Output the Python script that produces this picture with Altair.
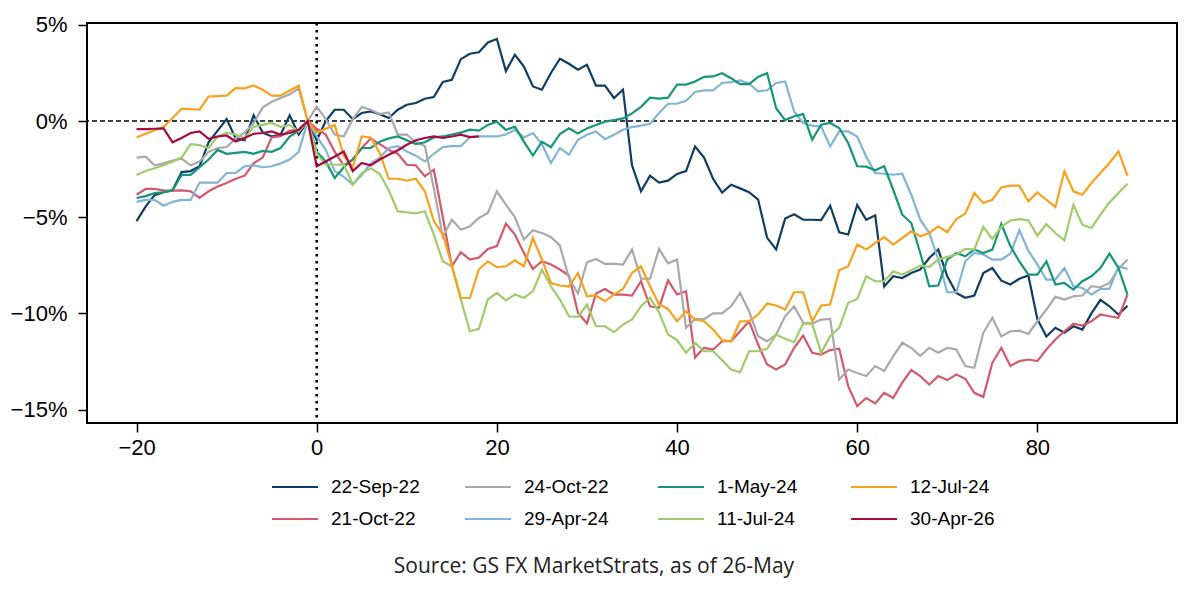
import altair as alt
import pandas as pd

days = list(range(-20, 91))
days_apr26 = list(range(-20, 19))

sep22 = [-5.2, -4.45, -3.85, -3.7, -3.6, -2.65, -2.6, -2.35, -1.1, -0.5, 0.1, -0.9, -1.0, 0.3, -0.6, -0.8, -0.7, 0.3, -0.7, 0.0,
         -1.0, 0.0, 0.59, 0.59, 0.1, 0.42, 0.5, 0.36, 0.16, 0.59, 0.85, 0.94, 1.16, 1.25, 2.03, 2.15, 3.22, 3.5, 3.58, 4.09, 4.27,
         2.6, 3.45, 2.84, 1.8, 1.63, 2.5, 3.24, 2.98, 2.67, 2.93, 1.84, 1.84, 1.2, 1.63, -2.3, -3.65, -2.84, -3.2, -3.1, -2.75, -2.6,
         -1.32, -1.9, -3.0, -3.72, -3.31, -3.5, -3.7, -4.08, -6.07, -6.67, -5.07, -4.85, -5.13, -5.13, -5.15, -4.4, -5.78, -5.9, -4.36, -5.13, -4.9,
         -8.6, -8.07, -8.16, -7.9, -7.72, -7.12, -6.68, -8.07, -8.94, -9.19, -9.07, -7.9, -7.64, -8.3, -8.5, -8.2, -8.03, -10.3, -11.2, -10.75,
         -11.0, -10.67, -10.84, -10.0, -9.3, -9.63, -10.06, -9.6]

oct21 = [-3.83, -3.53, -3.53, -3.6, -3.62, -3.6, -3.65, -4.0, -3.65, -3.4, -3.22, -3.0, -2.84, -2.2, -1.9, -0.85, -0.78, -0.5, -0.45, 0.0,
         -0.4, -0.7, -1.6, -2.3, -2.0, -1.4, -0.9, -1.2, -1.5, -1.7, -2.27, -2.3, -2.87, -2.53, -5.0, -7.55, -6.82, -7.2, -7.1, -6.65, -6.5,
         -5.33, -5.9, -6.86, -7.69, -7.29, -7.46, -7.72, -8.03, -9.97, -10.53, -8.97, -8.73, -9.02, -9.02, -9.07, -8.33, -9.63, -9.71, -8.28, -9.02, -8.85,
         -12.3, -11.79, -11.88, -11.45, -11.45, -10.93, -10.41, -11.62, -12.66, -12.92, -12.66, -11.79, -11.15, -12.05, -12.14, -11.91, -11.84, -13.78, -14.82, -14.4, -14.68,
         -14.13, -14.4, -13.6, -12.95, -13.26, -13.7, -13.26, -13.47, -13.18, -13.4, -14.13, -14.34, -12.57, -11.79, -12.74, -12.48, -12.4, -12.48, -11.88, -11.36,
         -10.93, -10.53, -10.63, -10.41, -10.06, -10.15, -10.23, -9.02]

oct24 = [-1.9, -1.85, -2.3, -2.2, -2.05, -1.95, -2.3, -2.1, -1.6, -1.4, -1.35, -0.9, -0.6, -0.1, 0.7, 1.0, 1.2, 1.4, 1.7, 0.0,
         0.75, 0.1, -0.7, -0.8, 0.1, 0.73, 0.59, 0.36, 0.45, -0.7, -0.7, -1.1, -1.3, -3.5, -6.0, -5.13, -5.65, -5.47, -5.04, -4.78, -3.65,
         -4.35, -5.0, -6.16, -5.68, -5.82, -6.03, -6.48, -8.16, -8.97, -7.34, -7.17, -7.43, -7.43, -7.46, -6.68, -8.2, -8.2, -6.65, -7.4, -7.2, -10.75,
         -10.3, -10.3, -10.0, -10.0, -9.63, -8.94, -9.89, -11.19, -11.45, -11.1, -10.15, -9.63, -10.49, -10.53, -10.32, -10.29, -13.44, -12.92, -13.1, -13.26, -12.74,
         -13.0, -12.22, -11.53, -11.79, -12.22, -11.79, -12.05, -11.79, -11.88, -12.74, -12.83, -11.01, -10.23, -11.2, -10.93, -10.9, -11.07, -10.41, -9.8, -9.14,
         -9.28, -9.11, -9.07, -8.59, -8.64, -8.42, -7.69, -7.2]

apr29 = [-4.2, -4.1, -4.1, -4.4, -4.2, -4.1, -4.1, -3.2, -3.2, -3.2, -2.7, -2.7, -2.35, -2.3, -2.4, -2.35, -2.2, -2.0, -1.6, 0.0,
         -0.8, -1.5, -2.6, -2.9, -3.3, -2.8, -2.2, -1.9, -1.4, -1.3, -1.58, -1.8, -2.1, -1.7, -1.35, -1.3, -1.3, -0.85, -0.8, -0.8, -0.8,
         -0.7, -0.45, -0.85, -0.62, -1.2, -2.18, -1.4, -1.75, -0.97, -0.71, -0.54, -0.94, -0.71, -0.45, -0.31, -0.24, -0.14, 0.42, 0.9, 0.9, 1.05,
         1.51, 1.6, 1.6, 1.98, 2.03, 2.11, 1.94, 1.55, 1.6, 1.98, 2.06, 0.5, -0.1, -0.24, -0.28, -1.32, -0.54, -0.54, -0.8, -1.85, -2.7,
         -2.74, -2.79, -2.74, -3.83, -5.13, -5.82, -7.2, -8.9, -8.9, -7.29, -6.86, -6.94, -7.2, -7.2, -6.9, -5.67, -6.75, -7.45, -8.24, -8.24,
         -7.64, -8.59, -8.68, -9.02, -8.73, -8.73, -7.55, -7.69]

may1 = [-4.0, -3.9, -3.75, -3.7, -3.6, -2.8, -2.8, -2.4, -2.0, -1.5, -1.7, -1.65, -1.6, -1.7, -1.55, -1.6, -1.4, -0.8, -0.5, 0.0,
        -1.6, -2.1, -2.96, -2.4, -2.0, -1.4, -1.4, -1.07, -0.9, -0.8, -1.0, -1.2, -1.1, -0.85, -0.8, -0.7, -0.6, -0.45, -0.5, -0.2, -0.03,
        -0.46, -0.29, -1.07, -1.79, -1.07, -1.36, -0.67, -0.38, -0.64, -0.38, -0.2, -0.03, 0.05, 0.14, 0.4, 0.74, 1.22, 1.17, 1.22, 1.9, 1.9,
        2.06, 2.3, 2.32, 2.49, 2.23, 1.92, 1.92, 2.3, 2.49, 0.67, 0.05, 0.25, 0.36, -0.97, -0.19, -0.1, -0.36, -1.14, -2.35, -2.37, -2.56,
        -2.35, -3.57, -4.87, -5.3, -6.86, -8.59, -8.55, -7.2, -6.86, -7.03, -6.68, -6.86, -6.68, -5.35, -6.5, -7.3, -7.98, -7.98, -7.29, -8.5,
        -8.42, -8.76, -8.33, -8.07, -7.64, -6.89, -7.64, -9.02]

jul11 = [-2.8, -2.6, -2.45, -2.3, -2.1, -1.9, -1.2, -1.25, -1.4, -0.8, -0.6, -0.7, -0.9, -0.3, -0.2, -0.1, -0.3, -0.2, -0.55, 0.0,
         -1.7, -2.25, -2.27, -2.25, -3.3, -2.7, -2.45, -2.75, -3.6, -4.7, -4.74, -4.8, -4.69, -5.9, -7.3, -7.55, -9.28, -10.93, -10.8, -9.28, -8.93,
         -9.32, -9.02, -9.19, -8.85, -7.72, -8.59, -9.28, -10.15, -10.18, -9.54, -10.67, -10.67, -10.98, -10.58, -10.32, -9.63, -9.19, -9.94, -11.1, -11.39, -12.05,
         -11.53, -11.97, -11.97, -12.43, -12.92, -13.06, -11.97, -11.97, -11.84, -11.1, -11.32, -11.5, -10.53, -10.53, -12.05, -11.19, -10.75, -9.45, -9.25, -8.07, -8.33,
         -8.33, -7.81, -7.98, -7.76, -7.52, -7.58, -7.2, -7.06, -6.94, -6.65, -6.68, -5.5, -6.13, -5.5, -5.17, -5.1, -5.16, -5.96, -5.36, -5.82,
         -6.2, -4.35, -5.39, -5.56, -4.87, -4.23, -3.74, -3.26]

jul12 = [-0.85, -0.66, -0.48, -0.31, 0.16, 0.64, 0.62, 0.59, 1.28, 1.3, 1.32, 1.71, 1.7, 1.85, 1.63, 1.32, 1.32, 1.59, 1.84, 0.0,
         -0.6, -0.4, -0.2, -1.8, -2.4, -0.8, -0.85, -1.66, -3.0, -3.0, -3.1, -3.0, -3.65, -5.2, -5.9, -7.5, -9.2, -9.2, -7.72, -7.29, -7.6,
         -7.55, -7.24, -7.55, -6.08, -7.2, -8.42, -8.55, -8.6, -7.9, -9.11, -9.07, -9.37, -9.02, -8.73, -7.9, -7.55, -8.59, -9.54, -9.77, -10.41, -9.89,
         -10.32, -10.41, -10.84, -11.39, -11.45, -10.41, -10.41, -10.06, -9.49, -9.59, -9.8, -8.9, -8.9, -10.41, -9.59, -9.54, -7.76, -7.55, -6.42, -6.68, -6.34,
         -6.03, -6.42, -6.08, -5.73, -5.99, -5.82, -5.47, -5.78, -5.09, -4.81, -3.74, -4.26, -4.09, -3.45, -3.36, -3.36, -4.17, -3.71, -4.09, -4.47,
         -2.61, -3.65, -3.83, -3.22, -2.7, -2.18, -1.58, -2.84]

apr26 = [-0.42, -0.42, -0.4, -0.38, -1.1, -0.88, -0.62, -0.54, -0.92, -0.8, -0.75, -1.06, -0.88, -0.66, -0.62, -0.54, -0.71, -0.62, -0.45, 0.0,
         -2.35, -2.1, -1.84, -1.58, -2.6, -2.18, -2.3, -2.0, -1.75, -1.52, -1.23, -1.0, -0.88, -0.8, -0.88, -0.8, -0.71, -0.83, -0.8]

series_names = ["22-Sep-22", "21-Oct-22", "24-Oct-22", "29-Apr-24", "1-May-24", "11-Jul-24", "12-Jul-24", "30-Apr-26"]
series_values = [sep22, oct21, oct24, apr29, may1, jul11, jul12, apr26]
series_days = [days] * 7 + [days_apr26]
series_colors = {
    "22-Sep-22": "#0e3d66",
    "21-Oct-22": "#d4596b",
    "24-Oct-22": "#a9a9a9",
    "29-Apr-24": "#82b4d8",
    "1-May-24": "#15967b",
    "11-Jul-24": "#9fcb6c",
    "12-Jul-24": "#f8a11c",
    "30-Apr-26": "#a60a40",
}
series_widths = {name: 2.2 for name in series_names}
series_widths["30-Apr-26"] = 3.8

x_ticks = [-20, 0, 20, 40, 60, 80]
y_ticks = [-15, -10, -5, 0, 5]

rows = []
for name, ds, vals in zip(series_names, series_days, series_values):
    for d, v in zip(ds, vals):
        rows.append({"day": d, "value": v, "series": name})
df = pd.DataFrame(rows)

FONT = "Liberation Sans"

x_enc = alt.X("day:Q",
              scale=alt.Scale(domain=[-25.5, 95.5], nice=False, zero=False),
              axis=alt.Axis(values=x_ticks, title=None, grid=False, domain=False,
                            tickColor="black", tickSize=9, tickWidth=1.5,
                            labelFont=FONT, labelFontSize=22, labelColor="black",
                            labelPadding=5, format="d", labelFlush=False))
y_enc = alt.Y("value:Q",
              scale=alt.Scale(domain=[-15.7, 5.1], nice=False, zero=False),
              axis=alt.Axis(values=y_ticks, title=None, grid=False, domain=False,
                            tickColor="black", tickSize=9, tickWidth=1.5,
                            labelFont=FONT, labelFontSize=22, labelColor="black",
                            labelPadding=11, format="d",
                            labelExpr="datum.label + '%'", labelFlush=False))

hrule = alt.Chart(pd.DataFrame({"value": [0]})).mark_rule(
    color="black", strokeWidth=1.5, strokeDash=[5, 3]).encode(y=y_enc)
vrule = alt.Chart(pd.DataFrame({"day": [0]})).mark_rule(
    color="black", strokeWidth=2.6, strokeDash=[2.5, 4.5]).encode(x=x_enc)

lines = alt.Chart(df).mark_line().encode(
    x=x_enc,
    y=y_enc,
    color=alt.Color("series:N",
                    scale=alt.Scale(domain=series_names,
                                    range=[series_colors[n] for n in series_names]),
                    legend=alt.Legend(title=None, orient="none", legendX=195, legendY=451,
                                      columns=4, symbolType="M-2,0H2", symbolSize=529,
                                      symbolStrokeWidth=3, labelFont=FONT, labelFontSize=19,
                                      labelColor="black", labelOffset=23, columnPadding=40,
                                      rowPadding=9, gridAlign="all")),
    strokeWidth=alt.StrokeWidth("series:N",
                                scale=alt.Scale(domain=series_names,
                                                range=[series_widths[n] for n in series_names]),
                                legend=None),
)

chart = alt.layer(hrule, vrule, lines).properties(
    width=1090,
    height=400,
    autosize=alt.AutoSizeParams(type="none"),
    padding={"left": 79, "top": 15, "right": 13, "bottom": 158},
    title=alt.TitleParams("Source: GS FX MarketStrats, as of 26-May", orient="bottom",
                          anchor="middle", frame="bounds", font="Open Sans", fontSize=21,
                          fontWeight="normal", color="#222222", offset=27),
    background="white",
).configure_view(stroke="black", strokeWidth=2)

chart.save("out.html", embed_options={"renderer": "svg", "actions": False})
